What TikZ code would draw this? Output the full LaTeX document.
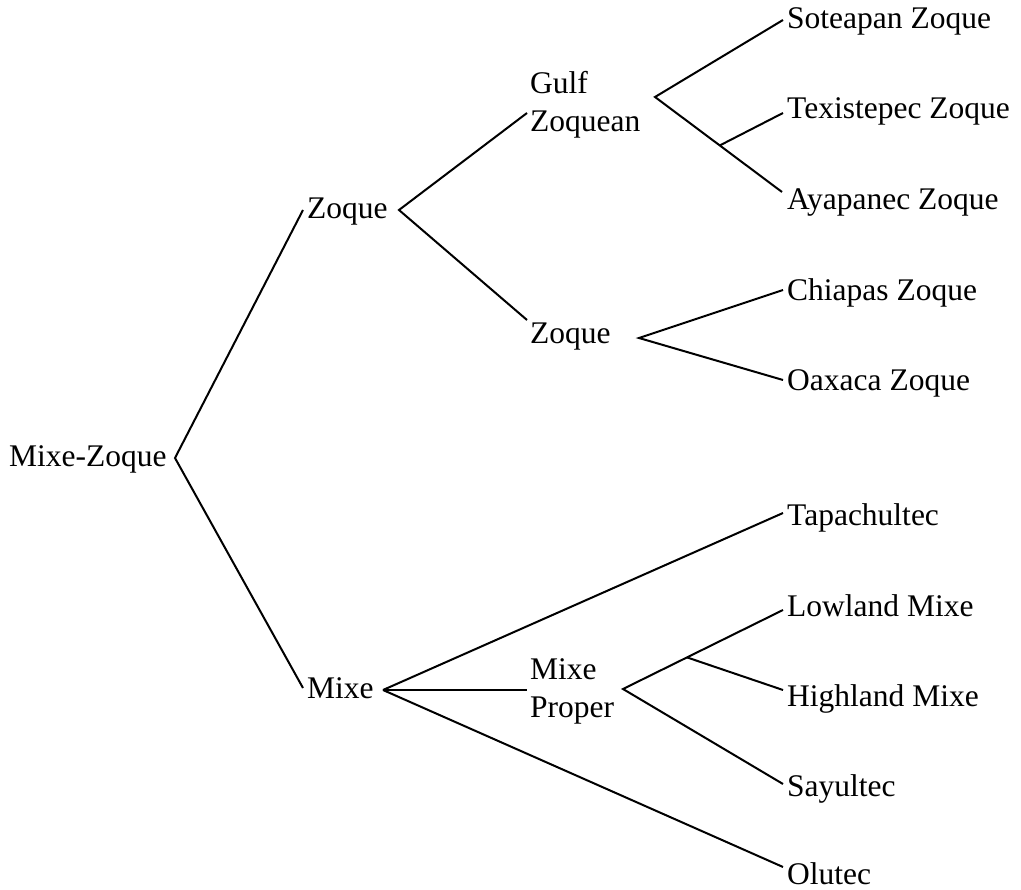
\documentclass[tikz,border=0pt]{standalone}
\usepackage{fontspec}
\setmainfont{Liberation Serif}
\usetikzlibrary{calc}
\begin{document}
\begin{tikzpicture}[x=1pt,y=-1pt,
  lbl/.style={anchor=base west, inner sep=0pt, font=\fontsize{31.5}{38}\selectfont},
  edge/.style={line width=2pt, line join=miter}]
\useasboundingbox (0,0) rectangle (1021,890);
% internal labels
\node[lbl] (mz) at (9,467) {Mixe-Zoque};
\node[lbl] (zq) at (307,219) {Zoque};
\node[lbl] (mx) at (307,698) {Mixe};
\node[lbl, align=left] (gz) at (530,132) {Gulf\\Zoquean};
\node[lbl] (zq2) at (530,344) {Zoque};
\node[lbl, align=left] (mp) at (530,717) {Mixe\\Proper};
% leaves
\node[lbl] (sot) at (787,29) {Soteapan Zoque};
\node[lbl] (tex) at (787,119) {Texistepec Zoque};
\node[lbl] (aya) at (787,210) {Ayapanec Zoque};
\node[lbl] (chi) at (787,301) {Chiapas Zoque};
\node[lbl] (oax) at (787,391) {Oaxaca Zoque};
\node[lbl] (tap) at (787,526) {Tapachultec};
\node[lbl] (low) at (787,616) {Lowland Mixe};
\node[lbl] (hig) at (787,706) {Highland Mixe};
\node[lbl] (say) at (787,796) {Sayultec};
\node[lbl] (olu) at (787,884) {Olutec};
% branching points
\coordinate (vmz) at (175,458);
\coordinate (vzq) at (399,210);
\coordinate (vmx) at (383,690);
\coordinate (vgz) at (655,97);
\coordinate (vzq2) at (639,338);
\coordinate (vmp) at (623,689);
% connectors
\draw[edge] ([shift={(-4,-9)}]zq.base west) -- (vmz) -- ([shift={(-4,-10)}]mx.base west);
\draw[edge] ([shift={(-3,-19)}]gz.base west) -- (vzq) -- ([shift={(-3,-24)}]zq2.base west);
\draw[edge] ([shift={(-4,-9)}]sot.base west) -- (vgz) -- ([shift={(-5,-18)}]aya.base west);
\coordinate (jgz) at ($(vgz)!0.51!([shift={(-5,-18)}]aya.base west)$);
\draw[edge] (jgz) -- ([shift={(-4,-6)}]tex.base west);
\draw[edge] ([shift={(-4,-11)}]chi.base west) -- (vzq2) -- ([shift={(-4,-11)}]oax.base west);
\draw[edge] (vmx) -- ([shift={(-4,-13)}]tap.base west);
\draw[edge] (vmx) -- ([shift={(-3,-27)}]mp.base west);
\draw[edge] (vmx) -- ([shift={(-4,-17)}]olu.base west);
\draw[edge] ([shift={(-4,-6)}]low.base west) -- (vmp) -- ([shift={(-4,-12)}]say.base west);
\coordinate (jmp) at ($(vmp)!0.4!([shift={(-4,-6)}]low.base west)$);
\draw[edge] (jmp) -- ([shift={(-4,-16)}]hig.base west);
\end{tikzpicture}
\end{document}
